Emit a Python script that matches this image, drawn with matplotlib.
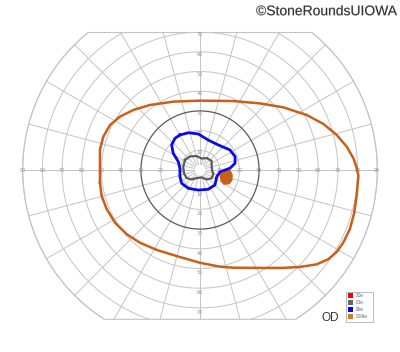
import numpy as np
import matplotlib.pyplot as plt
from matplotlib.patches import Polygon, Rectangle
import matplotlib.patheffects as pe

# Goldmann visual field, right eye (OD); coordinates in degrees
# isopter III4e (orange)
iii4e_x = [-50.8, -49.9, -47.4, -43.1, -37.2, -30.5, -21.9, -11.8, 0.0, 10.2,
           16.9, 30.5, 42.3, 50.8, 59.2, 65.1, 69.4, 72.7, 76.1, 78.3,
           79.5, 80.4, 79.6, 77.9, 74.5, 69.4, 62.6, 54.2, 42.3, 30.5,
           16.9, 0.0, -13.5, -25.4, -33.8, -40.6, -45.7, -49.1, -50.8, -50.8]
iii4e_y = [-6.4, -13.2, -19.8, -26.8, -32.6, -36.9, -40.6, -43.7, -47.1, -49.1,
           -49.6, -49.7, -49.7, -49.2, -47.9, -45.3, -41.6, -36.9, -29.9, -21.7,
           -13.2, -3.0, 0.9, 5.9, 11.8, 17.8, 23.4, 27.9, 31.8, 33.8,
           35.0, 35.2, 34.7, 33.0, 30.5, 27.1, 22.8, 16.9, 10.2, 0.9]

# blind spot III4e (filled)
spot_x = [11.0, 13.2, 15.2, 16.2, 16.1, 14.7, 12.2, 10.7, 10.4]
spot_y = [-0.9, 0.0, -0.3, -2.5, -5.1, -6.9, -7.1, -5.1, -2.5]

# isopter I4e (blue)
i4e_x = [-10.2, -5.9, -0.9, 4.2, 9.3, 15.2, 17.8, 17.8, 15.2, 10.2, 8.5,
         7.6, 4.2, -0.9, -5.9, -9.3, -10.2, -10.2, -11.0, -13.6, -14.4, -12.7]
i4e_y = [17.8, 18.9, 18.3, 15.2, 12.7, 10.2, 6.8, 3.4, 0.9, -0.9, -3.4,
         -7.6, -9.8, -10.2, -9.3, -6.8, -3.4, 0.9, 4.2, 8.5, 12.7, 16.1]

# isopter I3e (gray)
i3e_x = [-7.6, -5.1, -1.7, 0.9, 3.4, 5.9, 5.9, 6.1, 6.8, 5.9, 3.4, 0.9,
         -1.7, -4.2, -6.8, -8.1, -8.5]
i3e_y = [5.1, 6.9, 7.1, 5.8, 6.1, 4.6, 2.0, 0.0, -2.0, -4.2, -4.8, -3.8,
         -4.1, -4.8, -4.1, -1.8, 1.7]

legend_labels = ['I2e', 'I3e', 'I4e', 'III4e']
legend_colors = ['#ff0000', '#666666', '#0000ff', '#d07a30']

rings = list(range(10, 100, 10))
meridians = list(range(0, 360, 15))
h_labels = list(range(10, 100, 10))
v_labels = list(range(10, 80, 10))

ORANGE = '#c8601a'
BLUE = '#0a0ae6'
GRAY = '#5a5a5a'
GRID = '#c4c4c4'

PX = 1.97           # pixels per degree
CX, CY = 200, 170   # chart centre in pixels
TOP, BOTTOM = 69.8, -75.8

fig = plt.figure(figsize=(4, 3.52), dpi=100)
ax = fig.add_axes([0, 0, 1, 1])
ax.set_xlim(-CX / PX, (400 - CX) / PX)
ax.set_ylim(-(352 - CY) / PX, CY / PX)
ax.set_aspect('equal')
ax.axis('off')

# field boundary: 90 deg circle cut by top and bottom lines
t = np.linspace(0, 2 * np.pi, 721)
bx = 90 * np.cos(t)
by = np.clip(90 * np.sin(t), BOTTOM, TOP)
border = Polygon(np.column_stack([bx, by]), closed=True, fill=False,
                 edgecolor=GRID, lw=0.8, zorder=2)
ax.add_patch(border)

for r in rings:
    th = np.linspace(0, 2 * np.pi, 721)
    x, y = r * np.cos(th), r * np.sin(th)
    y = np.where((y > TOP) | (y < BOTTOM), np.nan, y)
    if r == 30:
        ax.plot(x, y, color=GRAY, lw=0.9, zorder=2)
    else:
        ax.plot(x, y, color=GRID, lw=0.7, zorder=1)

for m in meridians:
    a = np.radians(m)
    ax.plot([3 * np.cos(a), 90 * np.cos(a)], [3 * np.sin(a), 90 * np.sin(a)],
            color=GRID, lw=0.7, zorder=1, clip_path=border)

lab_kw = dict(fontsize=3.5, color='#999999', ha='center', va='center', zorder=3)
for v in h_labels:
    ax.text(v, 0, str(v), **lab_kw)
    ax.text(-v, 0, str(v), **lab_kw)
for v in v_labels:
    ax.text(0, v - 1.3, str(v), **lab_kw)
    ax.text(0, -v - 2.2, str(v), **lab_kw)

# isopters
ax.plot(iii4e_x + iii4e_x[:1], iii4e_y + iii4e_y[:1], color=ORANGE, lw=1.8,
        solid_joinstyle='round', zorder=4)
ax.add_patch(Polygon(np.column_stack([spot_x, spot_y]), closed=True,
                     facecolor=ORANGE, edgecolor=ORANGE, lw=1.2,
                     joinstyle='round', zorder=4))
ax.plot(i4e_x + i4e_x[:1], i4e_y + i4e_y[:1], color=BLUE, lw=2.0,
        solid_joinstyle='round', zorder=5)
ax.plot(i3e_x + i3e_x[:1], i3e_y + i3e_y[:1], color=GRAY, lw=1.6,
        solid_joinstyle='round', zorder=5)

ax.text((330 - CX) / PX, -(318 - CY) / PX, 'OD', fontsize=8.5, color='#333333',
        ha='center', va='center', family='Liberation Sans')

fig.text(0.993, 0.988, '\u00a9StoneRoundsUIOWA', ha='right', va='top',
         fontsize=10, color='#333333', family='Liberation Sans',
         path_effects=[pe.withStroke(linewidth=0.6, foreground='#dddddd')])

# legend box
lax = fig.add_axes([345.7 / 400, 1 - 321.7 / 352, 27 / 400, 30 / 352])
lax.set_xlim(0, 27)
lax.set_ylim(30, 0)
lax.set_xticks([])
lax.set_yticks([])
for s in lax.spines.values():
    s.set_color('#bbbbbb')
    s.set_linewidth(0.7)
for i, (lab, col) in enumerate(zip(legend_labels, legend_colors)):
    y0 = 1.6 + i * 6.8
    lax.add_patch(Rectangle((2, y0), 5, 5, facecolor=col, edgecolor='none'))
    lax.text(10, y0 + 2.5, lab, fontsize=3.5, color='#555555', va='center',
             family='DejaVu Serif')

fig.savefig('out.png', dpi=100)
